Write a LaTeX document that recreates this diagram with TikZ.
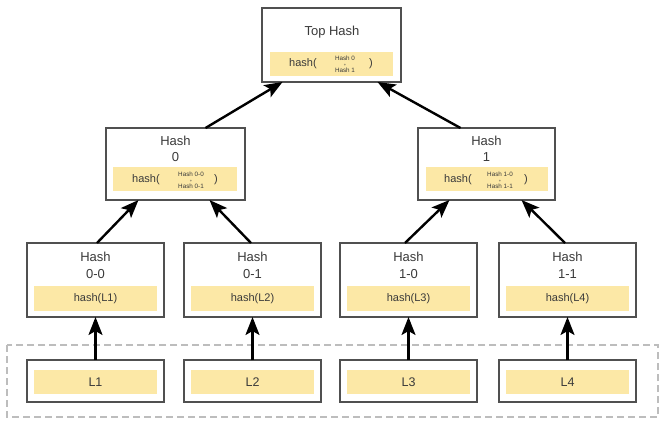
\documentclass[tikz,border=0pt]{standalone}
\usepackage{fontspec}
\setmainfont{Liberation Sans}
\usetikzlibrary{arrows.meta,calc}
\definecolor{boxline}{HTML}{505050}
\definecolor{hashy}{HTML}{FCE8A6}
\definecolor{txtc}{HTML}{3A3A3A}
\definecolor{dashg}{HTML}{BDBDBD}
\begin{document}
\begin{tikzpicture}[x=1pt,y=-1pt,
  hbox/.style={draw=boxline,line width=1.3pt,fill=white,inner sep=0pt,outer sep=0pt,anchor=north west},
  ybox/.style={fill=hashy,draw=none,inner sep=0pt,outer sep=0pt,anchor=north west},
  lbl/.style={text=txtc,font=\fontsize{13}{15}\selectfont,inner sep=0pt},
  slbl/.style={text=txtc,font=\fontsize{11}{13}\selectfont,inner sep=0pt},
  leaflbl/.style={text=txtc,font=\fontsize{12.5}{14}\selectfont,inner sep=0pt},
  tlbl/.style={text=txtc,font=\fontsize{6.3}{6}\selectfont,inner sep=0pt,align=center},
  arr/.style={line width=2.4pt,-{Stealth[length=18pt,width=14pt,inset=4pt]}},
  dashbox/.style={draw=dashg,line width=1.4pt,dash pattern=on 7pt off 4pt}]
\useasboundingbox (0,0) rectangle (659,421);
\fill[white] (0,0) rectangle (659,421);

% dashed leaf region
\draw[dashbox] (7,345) rectangle (658,417);

% top
\node[hbox,minimum width=139pt,minimum height=74pt] (top) at (262,8) {};
\node[ybox,minimum width=123pt,minimum height=24pt] (topy) at (270,52) {};
\node[lbl] (toplbl) at (332,32) {Top Hash};
\node[slbl] (tophash) at (303,64) {hash(};
\node[tlbl] (topin) at (345,64) {Hash 0\\{\fontsize{4}{4}\selectfont +}\\Hash 1};
\node[slbl] (topclose) at (371,64) {)};

% level 1
\node[hbox,minimum width=139pt,minimum height=72pt] (h0) at (106,128) {};
\node[ybox,minimum width=124pt,minimum height=24pt] (h0y) at (113,167) {};
\node[lbl] (h0a) at (175.5,141) {Hash};
\node[lbl] (h0b) at (175.5,157) {0};
\node[slbl] (h0hash) at (146,180) {hash(};
\node[tlbl] (h0in) at (191,180) {Hash 0-0\\{\fontsize{4}{4}\selectfont +}\\Hash 0-1};
\node[slbl] (h0close) at (216,180) {)};

\node[hbox,minimum width=137pt,minimum height=72pt] (h1) at (418,128) {};
\node[ybox,minimum width=122pt,minimum height=24pt] (h1y) at (426,167) {};
\node[lbl] (h1a) at (486.5,141) {Hash};
\node[lbl] (h1b) at (486.5,157) {1};
\node[slbl] (h1hash) at (458,180) {hash(};
\node[tlbl] (h1in) at (500,180) {Hash 1-0\\{\fontsize{4}{4}\selectfont +}\\Hash 1-1};
\node[slbl] (h1close) at (526,180) {)};

% level 2
\node[hbox,minimum width=137pt,minimum height=74pt] (h00) at (27,243) {};
\node[ybox,minimum width=123pt,minimum height=25pt] (h00y) at (34,286) {};
\node[lbl] (h00a) at (95.5,257) {Hash};
\node[lbl] (h00b) at (95.5,274) {0-0};
\node[slbl] (h00c) at (95.5,299) {hash(L1)};

\node[hbox,minimum width=137pt,minimum height=74pt] (h01) at (184,243) {};
\node[ybox,minimum width=123pt,minimum height=25pt] (h01y) at (191,286) {};
\node[lbl] (h01a) at (252.5,257) {Hash};
\node[lbl] (h01b) at (252.5,274) {0-1};
\node[slbl] (h01c) at (252.5,299) {hash(L2)};

\node[hbox,minimum width=137pt,minimum height=74pt] (h10) at (340,243) {};
\node[ybox,minimum width=123pt,minimum height=25pt] (h10y) at (347,286) {};
\node[lbl] (h10a) at (408.5,257) {Hash};
\node[lbl] (h10b) at (408.5,274) {1-0};
\node[slbl] (h10c) at (408.5,299) {hash(L3)};

\node[hbox,minimum width=137pt,minimum height=74pt] (h11) at (499,243) {};
\node[ybox,minimum width=123pt,minimum height=25pt] (h11y) at (506,286) {};
\node[lbl] (h11a) at (567.5,257) {Hash};
\node[lbl] (h11b) at (567.5,274) {1-1};
\node[slbl] (h11c) at (567.5,299) {hash(L4)};

% leaves
\node[hbox,minimum width=137pt,minimum height=42pt] (l1) at (27,360) {};
\node[ybox,minimum width=123pt,minimum height=24pt] (l1y) at (34,370) {};
\node[leaflbl] (l1t) at (95.5,382) {L1};
\node[hbox,minimum width=137pt,minimum height=42pt] (l2) at (184,360) {};
\node[ybox,minimum width=123pt,minimum height=24pt] (l2y) at (191,370) {};
\node[leaflbl] (l2t) at (252.5,382) {L2};
\node[hbox,minimum width=137pt,minimum height=42pt] (l3) at (340,360) {};
\node[ybox,minimum width=123pt,minimum height=24pt] (l3y) at (347,370) {};
\node[leaflbl] (l3t) at (408.5,382) {L3};
\node[hbox,minimum width=137pt,minimum height=42pt] (l4) at (499,360) {};
\node[ybox,minimum width=123pt,minimum height=24pt] (l4y) at (506,370) {};
\node[leaflbl] (l4t) at (567.5,382) {L4};

% arrows
\draw[arr] ($(h0.north)+(30,0)$) -- ($(top.south)+(-49,0)$);
\draw[arr] ($(h1.north)+(-26,0)$) -- ($(top.south)+(46,0)$);
\draw[arr] ($(h00.north)+(1.5,0)$) -- ($(h0.south)+(-37,0)$);
\draw[arr] ($(h01.north)+(-1.5,0)$) -- ($(h0.south)+(34,0)$);
\draw[arr] ($(h10.north)+(-3.5,0)$) -- ($(h1.south)+(-37,0)$);
\draw[arr] ($(h11.north)+(-2.5,0)$) -- ($(h1.south)+(35,0)$);
\draw[arr] (l1.north) -- (h00.south);
\draw[arr] (l2.north) -- (h01.south);
\draw[arr] (l3.north) -- (h10.south);
\draw[arr] (l4.north) -- (h11.south);
\end{tikzpicture}
\end{document}
